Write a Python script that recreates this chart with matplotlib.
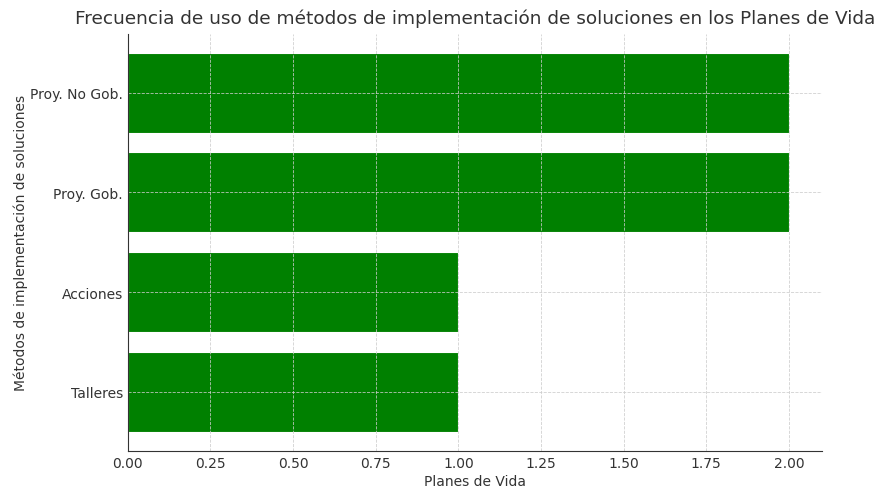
import matplotlib.pyplot as plt

metodos = ['Talleres', 'Acciones', 'Proy. Gob.', 'Proy. No Gob.']
planes = [1, 1, 2, 2]

fig = plt.figure(figsize=(8.81, 4.89), dpi=100)
ax = fig.add_axes([0.145, 0.076, 0.788, 0.853])
ax.barh(metodos, planes, color='green', edgecolor='white', linewidth=0.8, height=0.8)
ax.set_axisbelow(False)
ax.grid(True, linestyle='--', color='#cccccc', linewidth=0.6, alpha=0.9)
ax.spines['top'].set_visible(False)
ax.spines['right'].set_visible(False)
for s in ['left', 'bottom']:
    ax.spines[s].set_color('#333333')
    ax.spines[s].set_zorder(4)
ax.tick_params(colors='#333333', labelsize=10, length=0, pad=3.5)
ax.set_xlabel('Planes de Vida', color='#333333', fontsize=10, labelpad=3)
ax.set_ylabel('Métodos de implementación de soluciones', color='#333333', fontsize=10, labelpad=1.5)
ax.set_title('Frecuencia de uso de métodos de implementación de soluciones en los Planes de Vida',
             color='#333333', fontsize=13.3, pad=8)
fig.savefig('out.png', dpi=100)
